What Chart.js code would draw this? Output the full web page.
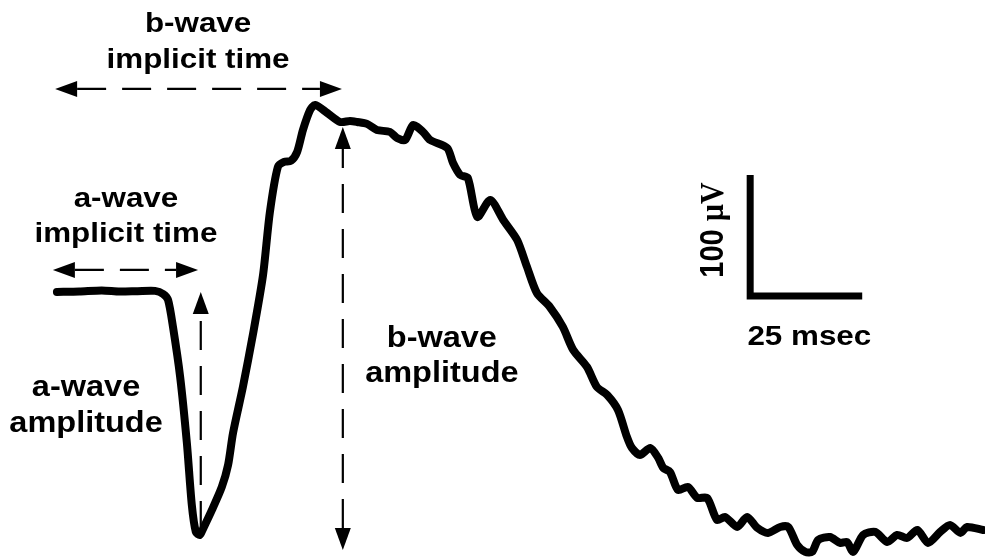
<!DOCTYPE html>
<html>
<head>
<meta charset="utf-8">
<title>ERG waveform</title>
<script src="https://cdn.jsdelivr.net/npm/chart.js@4"></script>
<style>
  html, body { margin: 0; padding: 0; background: #fff; }
  #wrap { width: 985px; height: 560px; position: relative; }
</style>
</head>
<body>
<div id="wrap"><canvas id="ergChart"></canvas></div>
<script>
// time after flash (ms) and response (µV)
const timeMs = [
  0, 5, 10, 14, 18, 21.9, 23.7, 24.8, 25.9, 27.5, 29.0, 30.1, 31.0, 31.9, 32.6,
  34.6, 36.8, 38.2, 39.3, 41.5, 43.8, 46.0, 47.5, 49.3, 50.7, 52.2, 53.6, 54.9,
  56.5, 57.6, 60.3, 63.2, 65.4, 67.0, 69.2, 71.4, 74.3, 75.9, 77.7, 79.5, 81.7,
  83.3, 87.1, 88.4, 90.0, 91.7, 93.8, 96.7, 99.6, 102.7, 104.9, 107.1, 110.0,
  112.9, 115.2, 118.3, 120.5, 122.8, 125.2, 127.2, 128.3, 130.1, 132.4, 134.2,
  135.3, 136.8, 138.6, 140.8, 142.9, 145.1, 147.3, 149.1, 151.8, 154.0, 156.3,
  158.7, 161.4, 163.2, 165.2, 167.0, 168.5, 169.9, 172.5, 174.8, 176.3, 177.7,
  179.9, 182.6, 185.3, 187.5, 189.7, 192.0, 194.4, 197.1, 199.3, 201.6, 203.1,
  206.7
];
const responseUv = [
  0.8, 1.2, 2.1, 1.2, 1.5, 1.7, -0.8, -5.8, -28.1, -69.4, -124, -175.2, -197.5, -200, -195,
  -179.3, -160.3, -142.1, -115.7, -77.7, -33.1, 14.9, 66.1, 104.1, 108.3, 109.1, 116.5, 134.7,
  151.2, 155.4, 148.8, 141.3, 142.1, 141.3, 139.7, 134.7, 133.1, 128.1, 126.4, 138.8, 133.1,
  126.4, 119.8, 107.4, 97.5, 95, 62.8, 76.9, 60.3, 43.8, 21.5, 0, -11.6,
  -28.1, -47.1, -61.2, -77.7, -84.3, -96.7, -119, -128.1, -133.9, -128.1, -136.4,
  -144.6, -147.9, -162.8, -160.3, -169.4, -169.4, -187.6, -185.1, -193.4, -185.1, -194.2,
  -198.3, -193.4, -193.4, -208.3, -214, -214, -204.1, -201.7, -206.6, -205.8, -214,
  -200, -197.5, -205.8, -200, -202.5, -195.9, -206.6, -197.5, -191.7, -198.3, -193.4,
  -195.9
];

// scale bar size
const scaleBarMs = 25;
const scaleBarUv = 100;

const points = timeMs.map((t, i) => ({ x: t, y: responseUv[i] }));

// annotation layout, in ms / µV
const notes = {
  bImplicit: { x1: -0.4, x2: 63.6, y: 168.6 },
  aImplicit: { x1: -0.9, x2: 31.5, y: 19.0 },
  aAmp: { x: 32.1, top: 0.8, bottom: -196 },
  bAmp: { x: 63.8, top: 137.2, bottom: -212.4 },
  bar: { x: 154.7, y: -2.5 },
};

const labels = [
  { lines: ["b-wave", "implicit time"], x: 31.5, y: [215.7, 186], size: 28 },
  { lines: ["a-wave", "implicit time"], x: 15.4, y: [71.1, 42.1], size: 28 },
  { lines: ["a-wave", "amplitude"], x: 6.5, y: [-85.1, -114.9], size: 29 },
  { lines: ["b-wave", "amplitude"], x: 85.9, y: [-44.6, -73.6], size: 29 },
  { lines: ["25 msec"], x: 167.9, y: [-43], size: 28 },
];

function head(ctx, x, y, ang) {
  const len = 22, hw = 8;
  ctx.save();
  ctx.translate(x, y);
  ctx.rotate(ang);
  ctx.beginPath();
  ctx.moveTo(0, 0);
  ctx.lineTo(-len, -hw);
  ctx.lineTo(-len, hw);
  ctx.closePath();
  ctx.fill();
  ctx.restore();
}

function dashed(ctx, x1, y1, x2, y2) {
  ctx.save();
  ctx.setLineDash([29, 16]);
  ctx.lineWidth = 2.2;
  ctx.beginPath();
  ctx.moveTo(x1, y1);
  ctx.lineTo(x2, y2);
  ctx.stroke();
  ctx.restore();
}

const annotate = {
  id: "annotate",
  afterDatasetsDraw(chart) {
    const { ctx, scales } = chart;
    const px = (v) => scales.x.getPixelForValue(v);
    const py = (v) => scales.y.getPixelForValue(v);
    ctx.save();
    ctx.fillStyle = "#000";
    ctx.strokeStyle = "#000";

    // horizontal double arrows
    [notes.bImplicit, notes.aImplicit].forEach((a) => {
      const l = px(a.x1), r = px(a.x2), y = py(a.y);
      dashed(ctx, l + 22, y, r - 22, y);
      head(ctx, l, y, Math.PI);
      head(ctx, r, y, 0);
    });

    // a-wave amplitude: single arrow up
    let x = px(notes.aAmp.x);
    dashed(ctx, x, py(notes.aAmp.bottom), x, py(notes.aAmp.top) + 22);
    head(ctx, x, py(notes.aAmp.top), -Math.PI / 2);

    // b-wave amplitude: double arrow
    x = px(notes.bAmp.x);
    dashed(ctx, x, py(notes.bAmp.bottom) - 22, x, py(notes.bAmp.top) + 22);
    head(ctx, x, py(notes.bAmp.top), -Math.PI / 2);
    head(ctx, x, py(notes.bAmp.bottom), Math.PI / 2);

    // scale bar
    const bx = px(notes.bar.x), by = py(notes.bar.y);
    ctx.lineWidth = 7;
    ctx.lineCap = "butt";
    ctx.beginPath();
    ctx.moveTo(bx, py(notes.bar.y + scaleBarUv));
    ctx.lineTo(bx, by + 3.5);
    ctx.moveTo(bx - 3.5, by);
    ctx.lineTo(px(notes.bar.x + scaleBarMs), by);
    ctx.stroke();

    // text labels
    ctx.textAlign = "center";
    ctx.textBaseline = "alphabetic";
    labels.forEach((lb) => {
      ctx.font = `bold ${lb.size}px "Liberation Sans", Arial, sans-serif`;
      lb.lines.forEach((s, i) => {
        ctx.save();
        ctx.translate(px(lb.x), py(lb.y[i]));
        ctx.scale(1.12, 1);
        ctx.fillText(s, 0, 0);
        ctx.restore();
      });
    });

    // rotated "100 µV"
    ctx.save();
    ctx.translate(px(145.8) + 13, py(52));
    ctx.rotate(-Math.PI / 2);
    const sans = 'bold 29px "Liberation Sans", Arial, sans-serif';
    const serif = 'bold 30px "Liberation Serif", "Times New Roman", serif';
    ctx.font = sans;
    const w1 = ctx.measureText("100 ").width;
    ctx.font = serif;
    const w2 = ctx.measureText("µV").width;
    ctx.textAlign = "left";
    ctx.font = sans;
    ctx.save();
    ctx.scale(1, 1.12);
    ctx.fillText("100 ", -(w1 + w2) / 2, 0);
    ctx.font = serif;
    ctx.fillText("µV", -(w1 + w2) / 2 + w1, 0);
    ctx.restore();
    ctx.restore();

    ctx.restore();
  },
};

const ctx = document.getElementById("ergChart").getContext("2d");

const chart = new Chart(ctx, {
  type: "scatter",
  data: {
    datasets: [
      {
        label: "ERG",
        data: points,
        showLine: true,
        borderColor: "#000",
        borderWidth: 8,
        borderJoinStyle: "round",
        borderCapStyle: "round",
        pointRadius: 0,
        tension: 0.25,
        clip: false,
      },
    ],
  },
  options: {
    responsive: true,
    maintainAspectRatio: false,
    animation: false,
    layout: { padding: 0 },
    scales: {
      x: { type: "linear", min: -12.7, max: 207.1, display: false },
      y: { type: "linear", min: -220.7, max: 242.1, display: false },
    },
    plugins: {
      legend: { display: false },
      tooltip: { enabled: false },
    },
  },
  plugins: [annotate],
});
</script>
</body>
</html>
